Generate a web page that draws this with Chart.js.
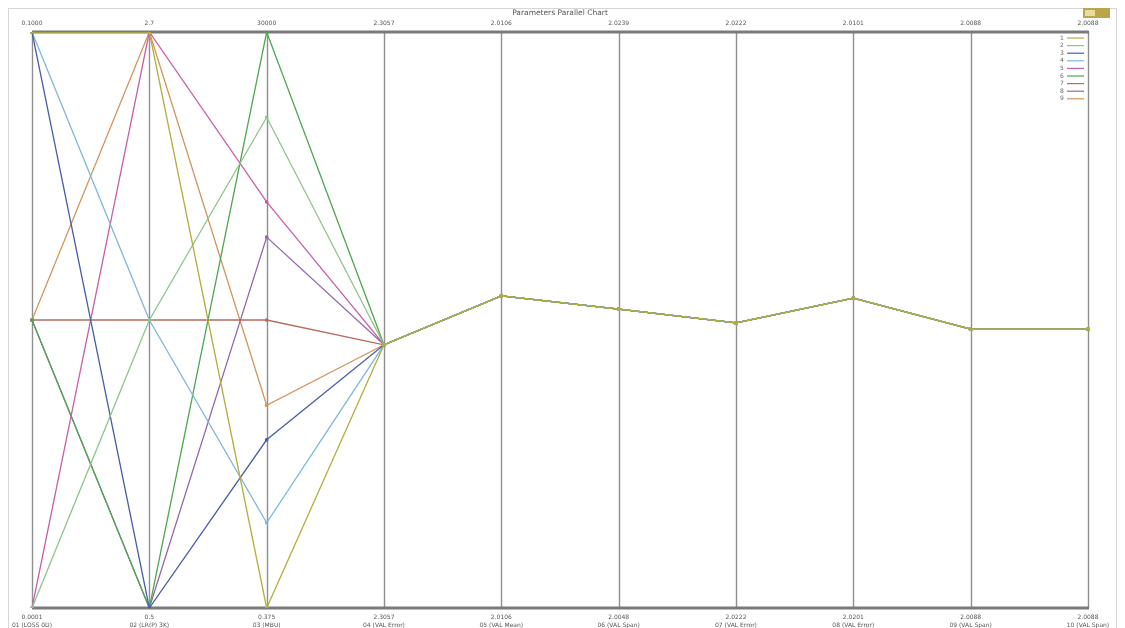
<!DOCTYPE html>
<html>
<head>
<meta charset="utf-8">
<script src="https://cdn.jsdelivr.net/npm/chart.js@4/dist/chart.umd.min.js"></script>
<style>
html,body{margin:0;padding:0;background:#fff;overflow:hidden}
canvas{display:block}
</style>
</head>
<body>
<canvas id="c" width="1125" height="628"></canvas>
<script>
// ---- data (normalised position on each parallel axis, 0 = bottom, 1 = top) ----
const axisKeys = ['p1','p2','p3','p4','p5','p6','p7','p8','p9','p10'];
const topLabels = ['0.1000','2.7','30000','2.3057','2.0106','2.0239','2.0222','2.0101','2.0088','2.0088'];
const bottomLabels = ['0.0001','0.5','0.375','2.3057','2.0106','2.0048','2.0222','2.0201','2.0088','2.0088'];
const axisNames = ['01 (LOSS 0D)','02 (LR(P) 3K)','03 (MBU)','04 (VAL Error)','05 (VAL Mean)','06 (VAL Span)','07 (VAL Error)','08 (VAL Error)','09 (VAL Span)','10 (VAL Span)'];
const seriesNames = ['1','2','3','4','5','6','7','8','9'];
const seriesColors = ['#b3ad3e','#8cc48a','#4a5ea8','#7fb6dc','#c85fa8','#4fa84e','#b86a5e','#9466ad','#d4945a'];
const s1 = [1.00, 1.00, 0.000, 0.457, 0.542, 0.519, 0.495, 0.538, 0.484, 0.484];
const s2 = [0.00, 0.50, 0.852, 0.457, 0.542, 0.519, 0.495, 0.538, 0.484, 0.484];
const s3 = [1.00, 0.00, 0.292, 0.457, 0.542, 0.519, 0.495, 0.538, 0.484, 0.484];
const s4 = [1.00, 0.50, 0.148, 0.457, 0.542, 0.519, 0.495, 0.538, 0.484, 0.484];
const s5 = [0.00, 1.00, 0.705, 0.457, 0.542, 0.519, 0.495, 0.538, 0.484, 0.484];
const s6 = [0.50, 0.00, 1.000, 0.457, 0.542, 0.519, 0.495, 0.538, 0.484, 0.484];
const s7 = [0.50, 0.50, 0.500, 0.457, 0.542, 0.519, 0.495, 0.538, 0.484, 0.484];
const s8 = [0.50, 0.00, 0.644, 0.457, 0.542, 0.519, 0.495, 0.538, 0.484, 0.484];
const s9 = [0.50, 1.00, 0.352, 0.457, 0.542, 0.519, 0.495, 0.538, 0.484, 0.484];
const seriesValues = [s1,s2,s3,s4,s5,s6,s7,s8,s9];

const datasets = seriesValues.map((v,i)=>({
  label: seriesNames[i],
  data: v,
  borderColor: seriesColors[i],
  backgroundColor: seriesColors[i],
  borderWidth: 1.3,
  pointRadius: 1.2,
  pointHoverRadius: 1.2,
  tension: 0,
  fill: false
}));

const decor = {
  id: 'decor',
  beforeDatasetsDraw(chart){
    const {ctx, chartArea:a, scales:{x}} = chart;
    ctx.save();
    ctx.strokeStyle = '#d6d6d6'; ctx.lineWidth = 1;
    ctx.strokeRect(8.5, 8.5, 1108, 640);
    ctx.strokeStyle = '#8f8f8f'; ctx.lineWidth = 1.4;
    axisKeys.forEach((k,i)=>{
      const px = Math.round(x.getPixelForValue(i))+0.5;
      ctx.beginPath(); ctx.moveTo(px, a.top); ctx.lineTo(px, a.bottom); ctx.stroke();
    });
    ctx.strokeStyle = '#7a7a7a'; ctx.lineWidth = 3;
    ctx.beginPath(); ctx.moveTo(a.left, a.top); ctx.lineTo(a.right+1, a.top); ctx.stroke();
    ctx.beginPath(); ctx.moveTo(a.left, a.bottom); ctx.lineTo(a.right+1, a.bottom); ctx.stroke();
    ctx.restore();
  },
  afterDatasetsDraw(chart){
    const {ctx, chartArea:a, scales:{x}} = chart;
    ctx.save();
    ctx.fillStyle = '#555';
    ctx.textAlign = 'center'; ctx.textBaseline = 'middle';
    ctx.font = '7.5px "DejaVu Sans"';
    ctx.fillText('Parameters Parallel Chart', (a.left+a.right)/2, 13);
    ctx.font = '6px "DejaVu Sans"';
    axisKeys.forEach((k,i)=>{
      const px = x.getPixelForValue(i);
      ctx.fillText(topLabels[i], px, 23);
      ctx.fillText(bottomLabels[i], px, 617);
      ctx.fillText(axisNames[i], px, 625);
    });
    ctx.textAlign = 'left';
    seriesNames.forEach((n,i)=>{
      const y = 38 + i*7.6;
      ctx.fillStyle = '#666';
      ctx.fillText(n, 1060, y);
      ctx.strokeStyle = seriesColors[i]; ctx.lineWidth = 1.2;
      ctx.beginPath(); ctx.moveTo(1067, y); ctx.lineTo(1084, y); ctx.stroke();
    });
    ctx.fillStyle = '#b9a54a';
    ctx.fillRect(1083, 8, 27, 10);
    ctx.fillStyle = '#e8dca0';
    ctx.fillRect(1085, 10, 10, 6);
    ctx.restore();
  }
};

new Chart(document.getElementById('c'), {
  type: 'line',
  data: { labels: axisKeys, datasets },
  options: {
    responsive: false,
    animation: false,
    layout: { padding: { left: 32, right: 37, top: 32, bottom: 20 } },
    plugins: { legend: { display: false }, tooltip: { enabled: false }, title: { display: false } },
    scales: {
      x: { type: 'category', offset: false, display: false },
      y: { type: 'linear', min: 0, max: 1, display: false }
    }
  },
  plugins: [decor]
});
</script>
</body>
</html>
